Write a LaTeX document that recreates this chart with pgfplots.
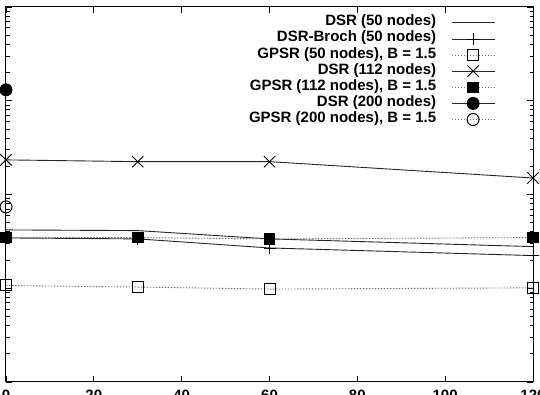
\documentclass[border=0pt]{standalone}
\usepackage{fontspec}
\setmainfont{Liberation Sans}
\usepackage{pgfplots}
\pgfplotsset{compat=1.18}
\begin{document}
\begin{tikzpicture}
\begin{axis}[
  scale only axis, width=527pt, height=375pt,
  xmin=0, xmax=120, ymode=log, ymin=1, ymax=10000,
  xtick={0,20,...,120},
  xticklabel={\pgfmathprintnumber[assume math mode=true]{\tick}},
  xticklabel style={yshift=-4pt},
  yticklabel style={xshift=-12pt},
  tick align=inside,
  major tick length=6pt, minor tick length=3.5pt,
  axis line style={line width=1pt},
  every tick/.style={black, line width=0.8pt},
  font=\fontsize{15}{17}\selectfont\bfseries,
  legend plot pos=right,
  legend cell align=right,
  legend style={draw=none, fill=none, at={(0.928,0.979)}, anchor=north east,
    inner sep=0pt, outer sep=0pt, font=\fontsize{15}{17}\selectfont\bfseries,
    nodes={inner sep=0pt, text height=11pt, text depth=5.1pt},
    /tikz/column sep=15pt, /tikz/row sep=0pt},
  legend image code/.code={\draw[mark repeat=2,mark phase=2,#1] plot coordinates {(0pt,0pt) (21.5pt,0pt) (43pt,0pt)};},
]
\coordinate (bl) at (rel axis cs:0,0);
\coordinate (tr) at (rel axis cs:1,1);
\addplot[black!85, line width=0.9pt, no marks] coordinates {(0,41.9)(30,41.2)(60,33.6)(120,27.8)};
\addlegendentry{DSR (50 nodes)}
\addplot[black!85, line width=0.9pt, mark=+, mark size=6pt, mark options={black, line width=0.9pt}] coordinates {(0,34.4)(30,33.6)(60,26.9)(120,22.3)};
\addlegendentry{DSR-Broch (50 nodes)}
\addplot[black!55, line width=0.9pt, dash pattern=on 1.5pt off 1.5pt, mark=square, mark size=5.5pt, mark options={solid, black, line width=1pt}] coordinates {(0,10.7)(30,10.3)(60,9.8)(120,10.1)};
\addlegendentry{GPSR (50 nodes), B = 1.5}
\addplot[black!85, line width=0.9pt, mark=x, mark size=8pt, mark options={black, line width=0.9pt}] coordinates {(0,234)(30,224)(60,224)(120,150)};
\addlegendentry{DSR (112 nodes)}
\addplot[black!55, line width=0.9pt, dash pattern=on 1.5pt off 1.5pt, mark=square*, mark size=5.3pt, mark options={solid, black}] coordinates {(0,34.7)(30,34.7)(60,33.6)(120,34.7)};
\addlegendentry{GPSR (112 nodes), B = 1.5}
\addplot[black!85, line width=0.9pt, mark=*, mark size=6pt, mark options={black}] coordinates {(0,1307)};
\addlegendentry{DSR (200 nodes)}
\addplot[black!55, line width=0.9pt, dash pattern=on 1.5pt off 1.5pt, mark=o, mark size=6pt, mark options={solid, black, line width=1pt}] coordinates {(0,73.7)};
\addlegendentry{GPSR (200 nodes), B = 1.5}
\end{axis}
\pgfresetboundingbox
\useasboundingbox ([xshift=-6pt,yshift=-13pt]bl) rectangle ([xshift=7pt,yshift=7pt]tr);
\end{tikzpicture}
\end{document}
